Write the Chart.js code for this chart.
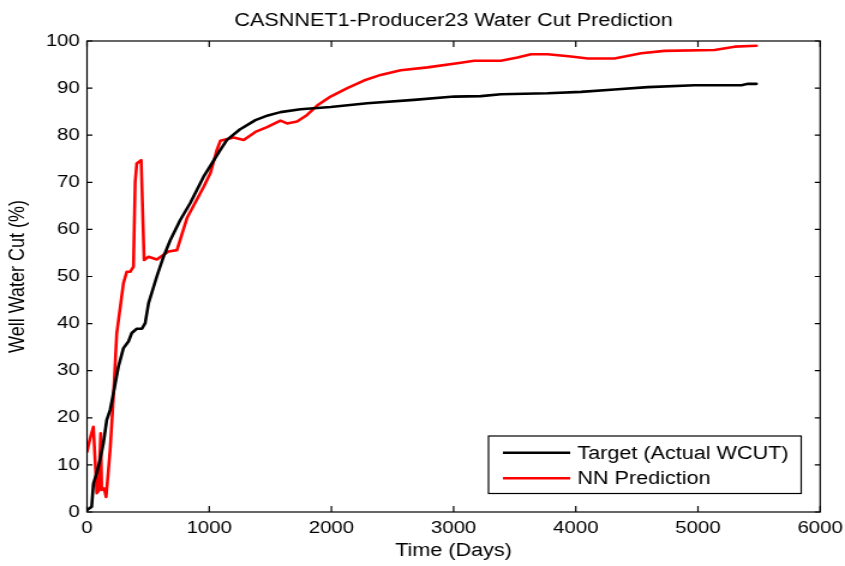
<!DOCTYPE html>
<html>
<head>
<meta charset="utf-8">
<script src="https://cdn.jsdelivr.net/npm/chart.js@4"></script>
<style>
  html, body { margin: 0; padding: 0; background: #fff; overflow: hidden; }
</style>
</head>
<body>
<!-- the original figure is stretched sideways, so the canvas is drawn narrower and widened by CSS -->
<canvas id="wcut" width="704" height="566" style="display:block;width:845px;height:566px"></canvas>
<script>
const titleText = 'CASNNET1-Producer23 Water Cut Prediction';
const seriesNames = ['Target (Actual WCUT)', 'NN Prediction'];

// Target (actual) water cut
const targetDays = [0, 38, 52, 80, 110, 134, 161, 189, 216, 257, 298, 339, 366, 407, 449, 476, 503, 571, 626, 681, 763, 845, 954, 1091, 1145, 1250, 1378, 1480, 1583, 1747, 1993, 2293, 2676, 3004, 3223, 3387, 3770, 4043, 4316, 4589, 4972, 5355, 5410, 5478];
const targetCut = [0.4, 1.1, 6, 8.3, 11.5, 14.6, 19.5, 21.7, 25.2, 30.9, 34.8, 36.2, 38, 38.9, 38.9, 40.1, 44.3, 50, 54.2, 57.7, 62, 65.6, 71.2, 76.9, 79, 81.2, 83.2, 84.2, 84.9, 85.5, 86, 86.8, 87.5, 88.2, 88.3, 88.7, 88.9, 89.2, 89.7, 90.2, 90.6, 90.6, 90.9, 90.9];

// neural network prediction
const nnDays = [0, 25, 52, 80, 95, 112, 120, 140, 156, 189, 216, 243, 298, 325, 353, 380, 394, 407, 443, 467, 503, 571, 626, 667, 736, 818, 954, 1009, 1063, 1091, 1200, 1282, 1378, 1473, 1583, 1637, 1719, 1801, 1883, 1993, 2130, 2266, 2403, 2567, 2786, 3059, 3168, 3387, 3523, 3633, 3770, 3961, 4098, 4316, 4535, 4726, 5136, 5300, 5478];
const nnCut = [12.8, 15.6, 18.1, 4, 4.5, 16.7, 4.7, 5, 3.2, 13.2, 24.5, 37.9, 48.6, 51, 51, 52.1, 70.1, 74, 74.7, 53.5, 54.2, 53.6, 54.6, 55.3, 55.6, 62.4, 69, 71.9, 76.9, 78.8, 79.5, 79, 80.7, 81.7, 83.1, 82.5, 82.9, 84.3, 86.3, 88.2, 90, 91.6, 92.8, 93.8, 94.4, 95.4, 95.8, 95.8, 96.5, 97.2, 97.2, 96.7, 96.3, 96.3, 97.4, 97.9, 98.1, 98.8, 99];

const xTicks = [0, 1000, 2000, 3000, 4000, 5000, 6000];
const yTicks = [0, 10, 20, 30, 40, 50, 60, 70, 80, 90, 100];

const FONT = '"Liberation Sans", Arial, Helvetica, sans-serif';
const toPoints = (xs, ys) => xs.map((d, i) => ({x: d, y: ys[i]}));

// box, inward ticks, title and the legend in the lower right
const matlabFrame = {
  id: 'matlabFrame',
  afterDraw(chart) {
    const {ctx, chartArea: a, scales} = chart;
    const x = scales.x, y = scales.y;
    ctx.save();
    ctx.strokeStyle = '#000';
    ctx.lineWidth = 1.2;
    ctx.strokeRect(a.left, a.top, a.right - a.left, a.bottom - a.top);
    ctx.beginPath();
    xTicks.forEach(v => {
      const px = x.getPixelForValue(v);
      ctx.moveTo(px, a.bottom); ctx.lineTo(px, a.bottom - 6);
      ctx.moveTo(px, a.top); ctx.lineTo(px, a.top + 6);
    });
    yTicks.forEach(v => {
      const py = y.getPixelForValue(v);
      ctx.moveTo(a.left, py); ctx.lineTo(a.left + 4.5, py);
      ctx.moveTo(a.right, py); ctx.lineTo(a.right - 4.5, py);
    });
    ctx.stroke();

    ctx.fillStyle = '#000';
    ctx.font = '18px ' + FONT;
    ctx.textAlign = 'center';
    ctx.textBaseline = 'middle';
    ctx.fillText(titleText, (a.left + a.right) / 2, 21);

    // legend
    const bw = 260.5, bh = 57.5;
    const bx = a.right - 15.8 - bw, by = a.bottom - 18.5 - bh;
    ctx.fillStyle = '#fff';
    ctx.fillRect(bx, by, bw, bh);
    ctx.lineWidth = 1.2;
    ctx.strokeRect(bx, by, bw, bh);
    ctx.textAlign = 'left';
    const rows = [by + 16.7, by + 42.3];
    chart.data.datasets.forEach((ds, i) => {
      ctx.strokeStyle = ds.borderColor;
      ctx.lineWidth = 2.5;
      ctx.beginPath();
      ctx.moveTo(bx + 12, rows[i]); ctx.lineTo(bx + 68, rows[i]);
      ctx.stroke();
      ctx.fillStyle = '#000';
      ctx.fillText(ds.label, bx + 74, rows[i] + 1);
    });
    ctx.restore();
  }
};

new Chart(document.getElementById('wcut'), {
  type: 'line',
  data: {
    datasets: [
      {label: seriesNames[0], data: toPoints(targetDays, targetCut), borderColor: '#000000', borderWidth: 2.6},
      {label: seriesNames[1], data: toPoints(nnDays, nnCut), borderColor: '#ff0000', borderWidth: 2.6}
    ]
  },
  options: {
    responsive: false,
    animation: false,
    devicePixelRatio: 1,
    layout: {padding: {left: 0, right: 20.7, top: 41, bottom: 0}},
    elements: {point: {radius: 0}, line: {tension: 0, borderJoinStyle: 'round', borderCapStyle: 'round'}},
    plugins: {legend: {display: false}, title: {display: false}, tooltip: {enabled: false}},
    scales: {
      x: {
        type: 'linear', min: 0, max: 6000,
        afterBuildTicks: s => { s.ticks = xTicks.map(v => ({value: v})); },
        afterFit: s => { s.height = 54; s.paddingLeft = 0; s.paddingRight = 0; },
        grid: {display: false, drawTicks: false},
        border: {display: false},
        ticks: {color: '#000', padding: 6, maxRotation: 0, callback: v => String(v), font: {size: 17, family: FONT}},
        title: {display: true, text: 'Time (Days)', color: '#000', font: {size: 18, family: FONT}, padding: {top: 0, bottom: 4}}
      },
      y: {
        min: 0, max: 100,
        afterBuildTicks: s => { s.ticks = yTicks.map(v => ({value: v})); },
        afterFit: s => { s.width = 72.5; s.paddingTop = 0; s.paddingBottom = 0; },
        grid: {display: false, drawTicks: false},
        border: {display: false},
        ticks: {color: '#000', padding: 6, callback: v => String(v), font: {size: 17, family: FONT}},
        title: {display: true, text: 'Well Water Cut (%)', color: '#000', font: {size: 18, family: FONT}, padding: {top: 4, bottom: 0}}
      }
    }
  },
  plugins: [matlabFrame]
});
</script>
</body>
</html>
